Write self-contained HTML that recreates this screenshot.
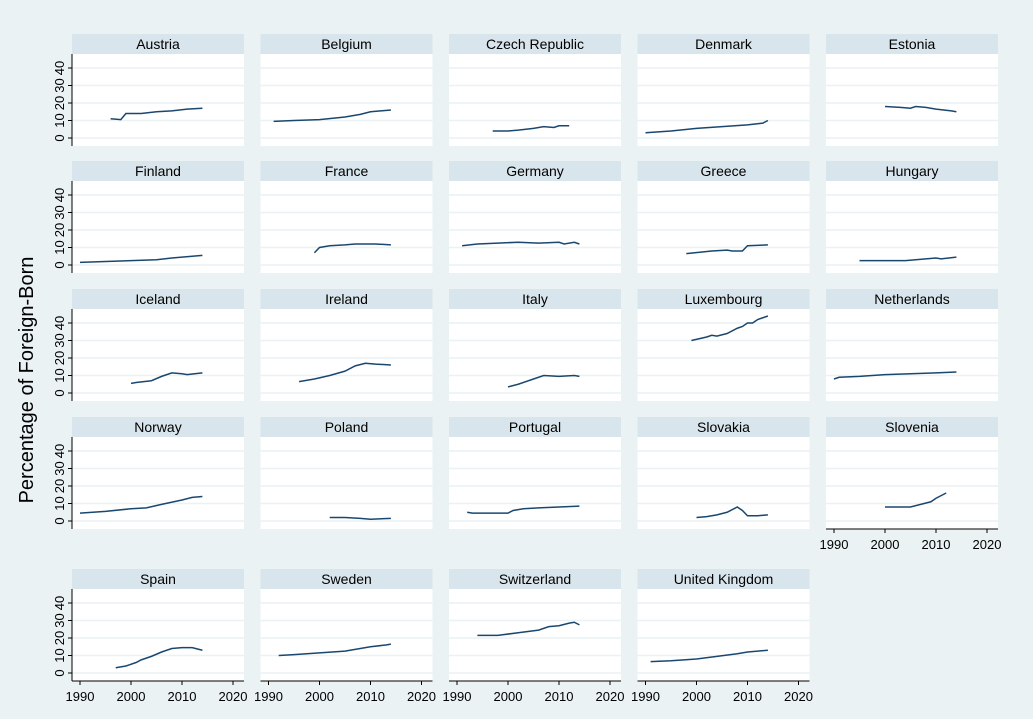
<!DOCTYPE html>
<html><head><meta charset="utf-8"><style>
body{margin:0;background:#eaf2f3;}
svg{display:block;font-family:"Liberation Sans",sans-serif;}
</style></head><body>
<svg id="c" width="1033" height="719">
<rect width="1033" height="719" fill="#eaf2f3"/>
<text x="0" y="0" transform="translate(33,380) rotate(-90)" text-anchor="middle" font-size="20" fill="#000">Percentage of Foreign-Born</text>
</svg>
<script>
const countries=["Austria","Belgium","Czech Republic","Denmark","Estonia","Finland","France","Germany","Greece","Hungary","Iceland","Ireland","Italy","Luxembourg","Netherlands","Norway","Poland","Portugal","Slovakia","Slovenia","Spain","Sweden","Switzerland","United Kingdom"];
const years=[
[1996,1998,1999,2002,2005,2008,2011,2014],
[1991,1995,2000,2005,2008,2010,2014],
[1997,2000,2002,2005,2007,2009,2010,2012],
[1990,1995,2000,2005,2010,2013,2014],
[2000,2003,2005,2006,2008,2010,2013,2014],
[1990,1995,2000,2005,2008,2014],
[1999,2000,2002,2005,2007,2011,2014],
[1991,1994,1998,2002,2006,2010,2011,2013,2014],
[1998,2003,2006,2007,2009,2010,2014],
[1995,2004,2008,2010,2011,2014],
[2000,2001,2004,2006,2008,2010,2011,2014],
[1996,1999,2002,2005,2007,2009,2011,2014],
[2000,2002,2005,2007,2010,2013,2014],
[1999,2002,2003,2004,2006,2008,2009,2010,2011,2012,2014],
[1990,1991,1995,2000,2005,2010,2014],
[1990,1995,2000,2003,2006,2010,2012,2014],
[2002,2005,2008,2010,2014],
[1992,1993,2000,2001,2003,2006,2010,2014],
[2000,2002,2004,2006,2008,2009,2010,2012,2014],
[2000,2005,2007,2009,2010,2012],
[1997,1999,2001,2002,2004,2006,2008,2010,2012,2014],
[1992,1995,2000,2005,2010,2013,2014],
[1994,1998,2002,2006,2008,2010,2012,2013,2014],
[1991,1995,2000,2004,2008,2010,2012,2014]];
const values=[
[11,10.5,14,14,15,15.5,16.5,17],
[9.5,10,10.5,12,13.5,15,16],
[4,4,4.5,5.5,6.5,6,7,7],
[3,4,5.5,6.5,7.5,8.5,10],
[18,17.5,17,18,17.5,16.5,15.5,15],
[1.5,2,2.5,3,4,5.5],
[7,10,11,11.5,12,12,11.5],
[11,12,12.5,13,12.5,13,12,13,12],
[6.5,8,8.5,8,8,11,11.5],
[2.5,2.5,3.5,4,3.5,4.5],
[5.5,6,7,9.5,11.5,11,10.5,11.5],
[6.5,8,10,12.5,15.5,17,16.5,16],
[3.5,5,8,10,9.5,10,9.5],
[30,32,33,32.5,34,37,38,40,40,42,44],
[8,9,9.5,10.5,11,11.5,12],
[4.5,5.5,7,7.5,9.5,12,13.5,14],
[2,2,1.5,1,1.5],
[5,4.5,4.5,6,7,7.5,8,8.5],
[2,2.5,3.5,5,8,6,3,3,3.5],
[8,8,9.5,11,13,16],
[3,4,6,7.5,9.5,12,14,14.5,14.5,13],
[10,10.5,11.5,12.5,15,16,16.5],
[21.5,21.5,23,24.5,26.5,27,28.5,29,27.5],
[6.5,7,8,9.5,11,12,12.5,13]];
const yTicks=[0,10,20,30,40];
const xTicks=[1990,2000,2010,2020];
const svg=document.getElementById('c');const NS='http://www.w3.org/2000/svg';
function mk(t,a,p){const e=document.createElementNS(NS,t);for(const k in a)e.setAttribute(k,a[k]);(p||svg).appendChild(e);return e;}
const colX=[72,260.5,449,637.5,826], rowY=[34,161,289,417,569];
const W=172;
countries.forEach((name,i)=>{
  const r=Math.floor(i/5),c=i%5,x0=colX[c],y0=rowY[r];
  const g=mk('g',{});
  
  
  const xs=yr=>x0+8+(yr-1990)*5.1;
  const ys=v=>y0+104-v*1.75;
  mk('rect',{x:x0,y:y0,width:W,height:20,fill:'#d9e5ec'},g);
  const t=mk('text',{x:x0+W/2,y:y0+15,'text-anchor':'middle','font-size':14},g);t.textContent=name;
  
  
  mk('rect',{x:x0,y:y0+20,width:W,height:92,fill:'#fff'},g);
  yTicks.forEach(v=>{mk('line',{x1:x0,x2:x0+W,y1:ys(v),y2:ys(v),stroke:'#eaf2f3','stroke-width':1.5},g);});
  if(c===0){
    mk('line',{x1:x0,x2:x0,y1:y0+20,y2:y0+112,stroke:'#000'},g);
    yTicks.forEach(v=>{mk('line',{x1:x0-4,x2:x0,y1:ys(v),y2:ys(v),stroke:'#000'},g);
      const l=mk('text',{transform:`translate(${x0-8},${ys(v)}) rotate(-90)`,'text-anchor':'middle','font-size':13},g);l.textContent=v;
      
      });
  }
  if(r===4||i===19){
    const yb=y0+112;
    mk('line',{x1:x0,x2:x0+W,y1:yb,y2:yb,stroke:'#000'},g);
    xTicks.forEach(v=>{mk('line',{x1:xs(v),x2:xs(v),y1:yb,y2:yb+4,stroke:'#000'},g);
      const l=mk('text',{x:xs(v),y:yb+20,'text-anchor':'middle','font-size':13},g);l.textContent=v;
      
      });
  }
  const p=mk('polyline',{points:years[i].map((yr,k)=>xs(yr)+','+ys(values[i][k])).join(' '),fill:'none',stroke:'#1a476f','stroke-width':1.5},g);
  
  
});
</script>
</body></html>
